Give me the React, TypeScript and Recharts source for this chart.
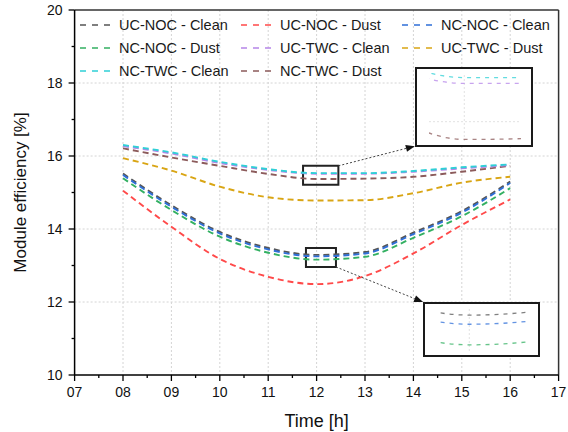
import React from 'react';
import {
  LineChart,
  Line,
  XAxis,
  YAxis,
  CartesianGrid,
  ReferenceLine,
  ReferenceArea
} from 'recharts';

// hours of the day
const hours = [8, 9, 10, 11, 12, 13, 14, 15, 16];

// module efficiency [%]
const ucNocClean = [15.52, 14.65, 13.92, 13.48, 13.29, 13.37, 13.9, 14.49, 15.3];
const ucNocDust = [15.05, 14.06, 13.18, 12.69, 12.49, 12.71, 13.33, 14.11, 14.81];
const ncNocClean = [15.48, 14.61, 13.88, 13.44, 13.25, 13.33, 13.86, 14.45, 15.26];
const ncNocDust = [15.39, 14.52, 13.79, 13.35, 13.16, 13.24, 13.76, 14.35, 15.12];
const ucTwcClean = [16.27, 16.07, 15.81, 15.62, 15.515, 15.515, 15.57, 15.66, 15.75];
const ucTwcDust = [15.94, 15.6, 15.16, 14.87, 14.78, 14.79, 14.98, 15.27, 15.43];
const ncTwcClean = [16.3, 16.1, 15.84, 15.64, 15.53, 15.53, 15.59, 15.69, 15.77];
const ncTwcDust = [16.21, 15.96, 15.73, 15.51, 15.37, 15.38, 15.43, 15.57, 15.73];

const xTicks = [7, 7.5, 8, 8.5, 9, 9.5, 10, 10.5, 11, 11.5, 12, 12.5, 13, 13.5, 14, 14.5, 15, 15.5, 16, 16.5, 17];
const yTicks = [10, 11, 12, 13, 14, 15, 16, 17, 18, 19, 20];

const data = hours.map((h, i) => ({
  hour: h,
  ucNocClean: ucNocClean[i],
  ucNocDust: ucNocDust[i],
  ncNocClean: ncNocClean[i],
  ncNocDust: ncNocDust[i],
  ucTwcClean: ucTwcClean[i],
  ucTwcDust: ucTwcDust[i],
  ncTwcClean: ncTwcClean[i],
  ncTwcDust: ncTwcDust[i]
}));

// legend order (3 columns)
const series = [
  { key: 'ucNocClean', name: 'UC-NOC - Clean', color: '#555555' },
  { key: 'ucNocDust', name: 'UC-NOC - Dust', color: '#ff4a4a' },
  { key: 'ncNocClean', name: 'NC-NOC - Clean', color: '#2f6fd8' },
  { key: 'ncNocDust', name: 'NC-NOC - Dust', color: '#33b062' },
  { key: 'ucTwcClean', name: 'UC-TWC - Clean', color: '#b585e8' },
  { key: 'ucTwcDust', name: 'UC-TWC - Dust', color: '#d9a514' },
  { key: 'ncTwcClean', name: 'NC-TWC - Clean', color: '#2fd0d6' },
  { key: 'ncTwcDust', name: 'NC-TWC - Dust', color: '#8c5b5b' }
];

// drawing order in the plot
const drawOrder = ['ucNocDust', 'ucTwcDust', 'ncNocDust', 'ucNocClean', 'ncNocClean', 'ncTwcDust', 'ucTwcClean', 'ncTwcClean'];

const FONT = '"Liberation Sans", Arial, sans-serif';

const XTick = (props: any) => {
  const { x, y, payload } = props;
  const v = payload.value;
  const major = Number.isInteger(v);
  return (
    <g>
      <line x1={x} y1={y} x2={x} y2={y + (major ? 6 : 3)} stroke="#000" strokeWidth={1.3} />
      {major && (
        <text x={x} y={y + 12} dy="0.71em" textAnchor="middle" fontSize={14} fill="#111" fontFamily={FONT}>
          {String(v).padStart(2, '0')}
        </text>
      )}
    </g>
  );
};

const YTick = (props: any) => {
  const { x, y, payload } = props;
  const v = payload.value;
  const major = v % 2 === 0;
  return (
    <g>
      <line x1={x} y1={y} x2={x - (major ? 6 : 3)} y2={y} stroke="#000" strokeWidth={1.3} />
      {major && (
        <text x={x - 12} y={y} dy="0.35em" textAnchor="end" fontSize={14} fill="#111" fontFamily={FONT}>
          {v}
        </text>
      )}
    </g>
  );
};

const Arrow = (props: any) => {
  const { x1, y1, x2, y2 } = props;
  const a = Math.atan2(y2 - y1, x2 - x1);
  const len = 9;
  const w = 3.5;
  const bx = x2 - len * Math.cos(a);
  const by = y2 - len * Math.sin(a);
  const p1 = `${bx + w * Math.sin(a)},${by - w * Math.cos(a)}`;
  const p2 = `${bx - w * Math.sin(a)},${by + w * Math.cos(a)}`;
  return (
    <g>
      <line x1={x1} y1={y1} x2={bx} y2={by} stroke="#444" strokeWidth={1} strokeDasharray="2 2" />
      <polygon points={`${x2},${y2} ${p1} ${p2}`} fill="#111" />
    </g>
  );
};

const Inset = (props: any) => {
  const { left, top, width, height, xDomain, yDomain, keys, hLine } = props;
  return (
    <div
      style={{
        position: 'absolute',
        left,
        top,
        width,
        height,
        border: '2px solid #1a1a1a',
        background: '#fff',
        boxSizing: 'border-box'
      }}
    >
      <LineChart width={width - 4} height={height - 4} data={data} margin={{ top: 4, right: 10, bottom: 4, left: 12 }}>
        <XAxis type="number" dataKey="hour" domain={xDomain} allowDataOverflow hide />
        <YAxis type="number" domain={yDomain} allowDataOverflow hide />
        <ReferenceLine x={12} stroke="#e2e2e2" strokeDasharray="2 2" />
        {hLine && <ReferenceLine y={hLine} stroke="#e2e2e2" strokeDasharray="2 2" />}
        {keys.map((k: string) => {
          const s = series.find((d) => d.key === k)!;
          return (
            <Line
              key={k}
              type="monotone"
              dataKey={k}
              stroke={s.color}
              strokeWidth={1.3}
              strokeOpacity={0.75}
              strokeDasharray="4 5"
              dot={false}
              isAnimationActive={false}
            />
          );
        })}
      </LineChart>
    </div>
  );
};

const LegendBox = () => {
  const cols = [80, 241, 402];
  const rows = [25, 48, 71];
  return (
    <div style={{ position: 'absolute', left: 0, top: 0 }}>
      {series.map((s, i) => {
        const x = cols[i % 3];
        const y = rows[Math.floor(i / 3)];
        return (
          <div
            key={s.key}
            style={{
              position: 'absolute',
              left: x,
              top: y - 9,
              height: 18,
              display: 'flex',
              alignItems: 'center',
              whiteSpace: 'nowrap',
              fontFamily: FONT,
              fontSize: 14.5,
              color: '#1a1a1a'
            }}
          >
            <svg width={37} height={10}>
              <line x1={0} y1={5} x2={36} y2={5} stroke={s.color} strokeWidth={1.6} strokeDasharray="6 6" />
            </svg>
            <span style={{ marginLeft: 2 }}>{s.name}</span>
          </div>
        );
      })}
    </div>
  );
};

export default function App() {
  return (
    <div
      style={{
        position: 'absolute',
        left: 0,
        top: 0,
        width: 568,
        height: 432,
        background: '#fff',
        fontFamily: FONT
      }}
    >
      <LineChart width={568} height={432} data={data} margin={{ top: 10, right: 9.4, bottom: 0, left: 0 }}>
        <CartesianGrid
          stroke="#d4d4d4"
          strokeDasharray="2 2"
          horizontalValues={[12, 14, 16, 18]}
          verticalValues={[8, 9, 10, 11, 12, 13, 14, 15, 16]}
        />
        <XAxis
          type="number"
          dataKey="hour"
          domain={[7, 17]}
          ticks={xTicks}
          interval={0}
          height={57}
          tickSize={0}
          tickMargin={0}
          tickLine={false}
          tick={<XTick />}
          axisLine={{ stroke: '#000', strokeWidth: 1.5 }}
          label={{ value: 'Time [h]', position: 'center', dy: 17, fontSize: 18, fill: '#111', fontFamily: FONT }}
        />
        <YAxis
          type="number"
          domain={[10, 20]}
          ticks={yTicks}
          interval={0}
          width={74.6}
          tickSize={0}
          tickMargin={0}
          tickLine={false}
          tick={<YTick />}
          axisLine={{ stroke: '#000', strokeWidth: 1.5 }}
          label={{ value: 'Module efficiency [%]', angle: -90, position: 'center', dx: -17, fontSize: 17, fill: '#111', fontFamily: FONT }}
        />
        <ReferenceLine y={20} stroke="#333" strokeWidth={1.5} />
        <ReferenceLine x={17} stroke="#333" strokeWidth={1.5} />
        {drawOrder.map((k) => {
          const s = series.find((d) => d.key === k)!;
          return (
            <Line
              key={k}
              type="monotone"
              dataKey={k}
              name={s.name}
              stroke={s.color}
              strokeWidth={1.9}
              strokeDasharray="6 4"
              dot={false}
              isAnimationActive={false}
            />
          );
        })}
        <ReferenceArea x1={11.72} x2={12.45} y1={15.21} y2={15.73} fill="none" stroke="#222" strokeWidth={2} />
        <ReferenceArea x1={11.78} x2={12.4} y1={12.96} y2={13.48} fill="none" stroke="#222" strokeWidth={2} />
        <ReferenceLine segment={[{ x: 12.45, y: 15.73 }, { x: 14.03, y: 16.27 }]} shape={<Arrow />} />
        <ReferenceLine segment={[{ x: 12.4, y: 12.96 }, { x: 14.2, y: 12.0 }]} shape={<Arrow />} />
      </LineChart>
      <LegendBox />
      <Inset
        left={415}
        top={67}
        width={118}
        height={80}
        xDomain={[11.72, 12.45]}
        yDomain={[15.366, 15.542]}
        keys={['ncTwcDust', 'ucTwcClean', 'ncTwcClean']}
        hLine={15.416}
      />
      <Inset
        left={423}
        top={302}
        width={117}
        height={55}
        xDomain={[11.78, 12.4]}
        yDomain={[13.133, 13.321]}
        keys={['ncNocDust', 'ncNocClean', 'ucNocClean']}
      />
    </div>
  );
}
